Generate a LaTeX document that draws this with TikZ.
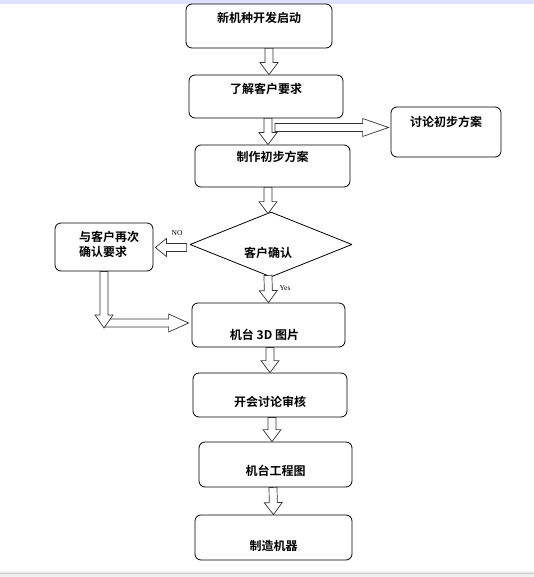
\documentclass[tikz,border=0pt]{standalone}
\usepackage{fontspec}
\setmainfont{Liberation Serif}
\newfontfamily\cjk{Noto Sans CJK SC}[BoldFont={Noto Sans CJK SC Bold}]
\usetikzlibrary{shapes.geometric,calc}

% hollow block arrow from #2 to #3, #1 = head length (pt)
\newcommand{\blk}[3][12]{%
  \draw[blkline] let \p1=#2, \p2=#3, \n1={atan2(\y2-\y1,\x2-\x1)}, \n2={veclen(\x2-\x1,\y2-\y1)} in
    ([shift={(\p1)},rotate=\n1]0pt,4pt) -- ([shift={(\p1)},rotate=\n1]{\n2-#1pt},4pt)
    -- ([shift={(\p1)},rotate=\n1]{\n2-#1pt},9pt) -- ([shift={(\p1)},rotate=\n1]{\n2+0pt},0pt)
    -- ([shift={(\p1)},rotate=\n1]{\n2-#1pt},-9pt) -- ([shift={(\p1)},rotate=\n1]{\n2-#1pt},-4pt)
    -- ([shift={(\p1)},rotate=\n1]0pt,-4pt) -- cycle;}

\begin{document}
\begin{tikzpicture}[x=1pt, y=-1pt, line join=round, line cap=round,
	font=\cjk\bfseries\fontsize{12pt}{15pt}\selectfont,
	box/.style={draw, rounded corners=6pt, line width=0.8pt, inner sep=0pt},
	txt/.style={inner sep=0pt, align=left},
	blkline/.style={draw=black!80, fill=white, line width=0.7pt, line join=miter},
	tag/.style={font=\rmfamily\fontsize{7.5pt}{9pt}\selectfont, inner sep=0pt}]
	\useasboundingbox (0,0) rectangle (534,577);
	\fill[blue!12] (0,0) rectangle (534,4);
	\fill[black!6] (0,571) rectangle (534,577);
	\draw[black!20] (0,573.5)--(534,573.5);
	% boxes
	\node[box, minimum width=146pt, minimum height=44pt, label={[txt,yshift=8pt]center:新机种开发启动}] (start) at (259,26) {};
	\node[box, minimum width=154pt, minimum height=43pt, label={[txt,yshift=8pt]center:了解客户要求}] (req) at (266,96.5) {};
	\node[box, minimum width=110pt, minimum height=50pt, label={[txt,yshift=10pt]center:讨论初步方案}] (discuss) at (446,132) {};
	\node[box, minimum width=155pt, minimum height=42pt, label={[txt,yshift=9pt]center:制作初步方案}] (draft) at (272.5,166) {};
	\node[draw, diamond, line width=0.8pt, inner sep=0pt, minimum width=162pt, minimum height=65pt,
		label={[txt,yshift=-8pt,xshift=-3pt]center:客户确认}] (confirm) at (271,244.5) {};
	\node[box, minimum width=98pt, minimum height=48pt,
		label={[txt,yshift=3pt,xshift=5pt]center:与客户再次\\确认要求}] (recheck) at (104,247) {};
	\node[box, minimum width=153pt, minimum height=44pt, label={[txt,yshift=-10pt,xshift=-4pt]center:机台 3D 图片}] (model) at (268.5,325) {};
	\node[box, minimum width=154pt, minimum height=44pt, label={[txt,yshift=-7pt]center:开会讨论审核}] (review) at (270,395) {};
	\node[box, minimum width=153pt, minimum height=45pt, label={[txt,yshift=-6pt]center:机台工程图}] (drawing) at (275.5,464.5) {};
	\node[box, minimum width=157pt, minimum height=45pt, label={[txt,yshift=-8pt]center:制造机器}] (build) at (273.5,537.5) {};
	% main line
	\blk{([xshift=10pt]start.south)}{([xshift=3pt]req.north)}
	\blk{([xshift=2pt]req.south)}{([xshift=-4.5pt]draft.north)}
	\blk{([xshift=-4.5pt]draft.south)}{([xshift=-3pt,yshift=-2pt]confirm.north)}
	\blk{([xshift=-3pt,yshift=2pt]confirm.south)}{(model.north)}
	\blk{([xshift=1.5pt]model.south)}{(review.north)}
	\blk{([xshift=2pt]review.south)}{([xshift=-3.5pt]drawing.north)}
	\blk{([xshift=-2.5pt]drawing.south)}{(build.north)}
	% side branches
	\coordinate (side) at (275,127.5);
	\blk[26]{(side)}{([xshift=-2pt]side -| discuss.west)}
	\blk[11]{([xshift=-3pt,yshift=-3pt]confirm.west)}{([xshift=2pt,yshift=-3pt]confirm.west -| recheck.east)}
	\coordinate (bend) at (104,323);
	\blk[20]{(bend)}{([xshift=-3pt]bend -| model.west)}
	\blk[13]{(recheck.south)}{([yshift=-5pt]bend)}
	\node[tag] (no) at (177,233) {NO};
	\node[tag] (yes) at (285,288) {Yes};
\end{tikzpicture}
\end{document}
